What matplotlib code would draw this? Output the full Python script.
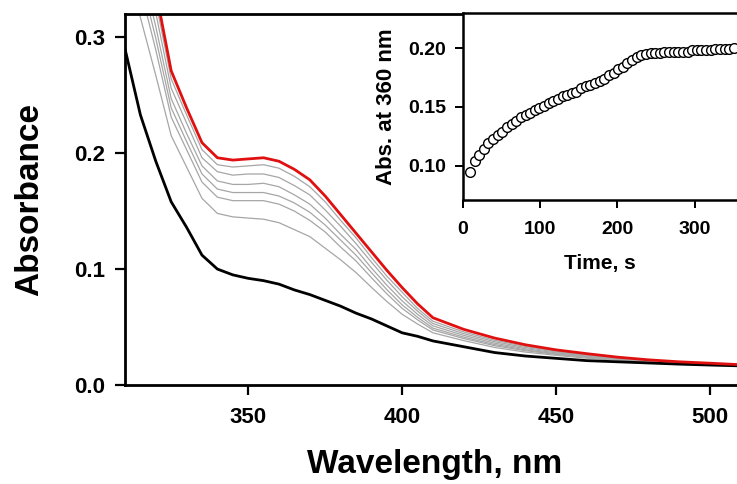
import matplotlib
matplotlib.use("Agg")
import matplotlib.pyplot as plt

plt.rcParams['font.family'] = ['Liberation Sans', 'DejaVu Sans']
plt.rcParams['font.weight'] = 'bold'

# wavelength grid (nm) shared by all spectra
wavelength = [310, 315, 320, 325, 330, 335, 340, 345, 350, 355, 360, 365, 370, 375, 380,
              385, 390, 395, 400, 405, 410, 420, 430, 440, 450, 460, 470, 480, 490, 500, 510]

# initial spectrum (black)
abs_start = [0.290, 0.233, 0.193, 0.158, 0.136, 0.112, 0.100, 0.095, 0.092, 0.090, 0.087,
             0.082, 0.078, 0.073, 0.068, 0.062, 0.057, 0.051, 0.045, 0.042, 0.038, 0.033,
             0.028, 0.025, 0.023, 0.021, 0.020, 0.019, 0.018, 0.0172, 0.0165]

# final spectrum (red)
abs_end = [0.460, 0.400, 0.340, 0.271, 0.239, 0.209, 0.196, 0.194, 0.195, 0.196, 0.193,
           0.186, 0.177, 0.163, 0.147, 0.131, 0.115, 0.099, 0.084, 0.070, 0.058, 0.048,
           0.0405, 0.0347, 0.0303, 0.027, 0.024, 0.0217, 0.020, 0.0188, 0.0175]

# intermediate spectra (grey), highest first
abs_mid1 = [0.450, 0.390, 0.331, 0.264, 0.233, 0.203, 0.190, 0.188, 0.189, 0.190, 0.187,
            0.180, 0.171, 0.158, 0.142, 0.127, 0.110, 0.094, 0.080, 0.066, 0.055, 0.0458,
            0.0386, 0.0333, 0.0292, 0.0261, 0.0234, 0.0213, 0.0197, 0.0186, 0.0174]
abs_mid2 = [0.438, 0.378, 0.321, 0.256, 0.226, 0.196, 0.184, 0.181, 0.182, 0.182, 0.179,
            0.172, 0.164, 0.151, 0.137, 0.122, 0.106, 0.0905, 0.0761, 0.0637, 0.053, 0.0443,
            0.0374, 0.0323, 0.0285, 0.0255, 0.023, 0.021, 0.0195, 0.0184, 0.0173]
abs_mid3 = [0.424, 0.365, 0.309, 0.247, 0.217, 0.189, 0.176, 0.173, 0.173, 0.174, 0.171,
            0.164, 0.156, 0.144, 0.130, 0.117, 0.101, 0.0862, 0.0725, 0.061, 0.051, 0.0428,
            0.0361, 0.0313, 0.0277, 0.0249, 0.0226, 0.0208, 0.0193, 0.0182, 0.0172]
abs_mid4 = [0.412, 0.353, 0.299, 0.239, 0.210, 0.182, 0.169, 0.166, 0.166, 0.166, 0.163,
            0.157, 0.149, 0.138, 0.125, 0.112, 0.097, 0.0823, 0.0691, 0.0584, 0.049, 0.0413,
            0.0349, 0.0303, 0.027, 0.0243, 0.0222, 0.0205, 0.0191, 0.0181, 0.0171]
abs_mid5 = [0.401, 0.342, 0.289, 0.231, 0.203, 0.175, 0.162, 0.159, 0.159, 0.159, 0.156,
            0.150, 0.142, 0.132, 0.119, 0.107, 0.0926, 0.0787, 0.0661, 0.0562, 0.0474, 0.0401,
            0.0339, 0.0296, 0.0264, 0.0238, 0.0219, 0.0203, 0.0189, 0.018, 0.017]
abs_mid6 = [0.375, 0.317, 0.267, 0.215, 0.188, 0.161, 0.148, 0.145, 0.144, 0.143, 0.140,
            0.134, 0.128, 0.118, 0.108, 0.097, 0.0843, 0.0721, 0.061, 0.0526, 0.045, 0.0383,
            0.0324, 0.0284, 0.0256, 0.0231, 0.0214, 0.0199, 0.0187, 0.0178, 0.0169]

# inset: absorbance at 360 nm vs time
time_s = [9, 15, 21, 27, 33, 39, 45, 51, 57, 63, 69, 75, 81, 87, 93, 99, 105, 111, 117, 123,
          129, 135, 141, 147, 153, 159, 165, 171, 177, 183, 189, 195, 201, 207, 213, 219, 225,
          231, 237, 243, 249, 255, 261, 267, 273, 279, 285, 291, 297, 303, 309, 315, 321, 327,
          333, 339, 345, 351]
abs_360 = [0.095, 0.104, 0.109, 0.114, 0.119, 0.123, 0.126, 0.129, 0.133, 0.135, 0.138,
           0.141, 0.143, 0.145, 0.147, 0.149, 0.151, 0.153, 0.155, 0.157, 0.159, 0.160,
           0.162, 0.163, 0.166, 0.168, 0.169, 0.170, 0.172, 0.174, 0.177, 0.179, 0.182,
           0.184, 0.187, 0.190, 0.192, 0.194, 0.195, 0.196, 0.196, 0.196, 0.197, 0.197,
           0.197, 0.197, 0.197, 0.197, 0.198, 0.198, 0.198, 0.198, 0.198, 0.199, 0.199,
           0.199, 0.199, 0.200]


def style_axes(ax, lw, ticklen, labelsize, pad):
    for side in ("left", "bottom", "top"):
        ax.spines[side].set_linewidth(lw)
    ax.spines["right"].set_visible(False)
    ax.tick_params(direction="out", length=ticklen, width=lw * 0.8, pad=pad,
                   labelsize=labelsize, top=False, right=False)
    for lab in ax.get_xticklabels() + ax.get_yticklabels():
        lab.set_fontweight("bold")


fig = plt.figure(figsize=(7.37, 4.84), dpi=100)

# main axes, right side runs to the figure edge like the cropped original
ax = fig.add_axes([125 / 737, 1 - 385 / 484, 619 / 737, 371 / 484])
for mid in (abs_mid1, abs_mid2, abs_mid3, abs_mid4, abs_mid5, abs_mid6):
    ax.plot(wavelength, mid, color="#a6a6a6", lw=0.9)
ax.plot(wavelength, abs_start, color="black", lw=2.0)
ax.plot(wavelength, abs_end, color="#e01010", lw=2.0)
ax.set_xlim(310, 511)
ax.set_ylim(0, 0.32)
ax.set_xticks([350, 400, 450, 500])
ax.set_yticks([0.0, 0.1, 0.2, 0.3])
ax.set_yticklabels(["0.0", "0.1", "0.2", "0.3"])
style_axes(ax, 2.0, 7, 16, 7)
ax.tick_params(axis="x", pad=9)
ax.set_xlabel("Wavelength, nm", fontsize=24, fontweight="bold")
ax.set_ylabel("Absorbance", fontsize=24, fontweight="bold")
ax.xaxis.label.set_verticalalignment("center")
ax.yaxis.label.set_verticalalignment("center")
ax.xaxis.set_label_coords(0.5, (385 - 465) / 371)
ax.yaxis.set_label_coords((30 - 125) / 619, 0.5)

# inset kinetics
ins = fig.add_axes([463 / 737, 1 - 200 / 484, 274 / 737, 187 / 484])
ins.plot(time_s, abs_360, "o", mfc="white", mec="black", mew=1.0, ms=7, ls="none")
ins.set_xlim(0, 355)
ins.set_ylim(0.0708, 0.2298)
ins.set_xticks([0, 100, 200, 300])
ins.set_yticks([0.10, 0.15, 0.20])
ins.set_yticklabels(["0.10", "0.15", "0.20"])
style_axes(ins, 1.8, 6, 14, 6)
ins.tick_params(axis="x", pad=9)
ins.set_xlabel("Time, s", fontsize=15, fontweight="bold")
ins.set_ylabel("Abs. at 360 nm", fontsize=16, fontweight="bold")
ins.xaxis.label.set_verticalalignment("center")
ins.yaxis.label.set_verticalalignment("center")
ins.xaxis.set_label_coords(0.5, (200 - 264) / 187)
ins.yaxis.set_label_coords((386 - 463) / 274, 0.5)

fig.savefig("out.png", dpi=100)
